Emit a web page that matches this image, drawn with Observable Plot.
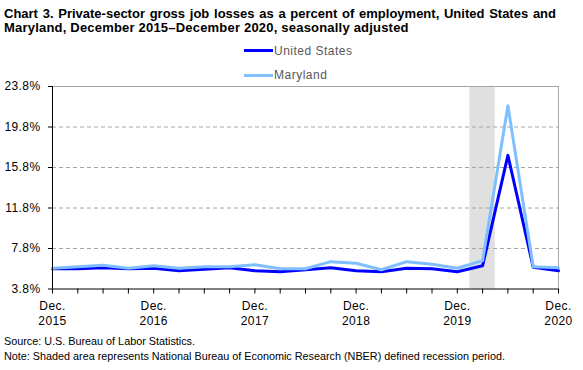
<!DOCTYPE html>
<html><head><meta charset="utf-8">
<script src="https://cdn.jsdelivr.net/npm/d3@7"></script>
<script src="https://cdn.jsdelivr.net/npm/@observablehq/plot@0.6"></script>
<style>
body{margin:0;background:#fff;}
#wrap{position:relative;width:583px;height:370px;overflow:hidden;font-family:"Liberation Sans",Arial,sans-serif;}
#chart{position:absolute;left:0;top:0;}
#title{position:absolute;left:4px;top:7px;width:552px;font-weight:bold;font-size:13px;line-height:14px;color:#000;letter-spacing:0.2px;}
#title .l1{text-align:justify;text-align-last:justify;letter-spacing:0;}
.sw{position:absolute;left:244px;width:29px;height:3px;}
.lt{position:absolute;left:274px;font-size:12px;line-height:14px;color:#595959;white-space:nowrap;letter-spacing:0.5px;}
.note{position:absolute;left:4px;font-size:11px;line-height:14px;color:#000;white-space:nowrap;transform-origin:0 0;}
</style></head>
<body>
<div id="wrap">
  <div id="chart"></div>
  <div id="title"><div class="l1">Chart 3. Private-sector gross job losses as a percent of employment, United States and</div><div>Maryland, December 2015–December 2020, seasonally adjusted</div></div>
  <div class="sw" id="sw0" style="top:48.5px"></div><div class="lt" id="lt0" style="top:44px"></div>
  <div class="sw" id="sw1" style="top:73.8px"></div><div class="lt" id="lt1" style="top:68.3px"></div>
  <div class="note" id="src" style="top:334.2px">Source: U.S. Bureau of Labor Statistics.</div>
  <div class="note" id="nt" style="top:348.7px">Note: Shaded area represents National Bureau of Economic Research (NBER) defined recession period.</div>
</div>
<script>
const quarters = ["Dec 2015","Mar 2016","Jun 2016","Sep 2016","Dec 2016","Mar 2017","Jun 2017","Sep 2017","Dec 2017","Mar 2018","Jun 2018","Sep 2018","Dec 2018","Mar 2019","Jun 2019","Sep 2019","Dec 2019","Mar 2020","Jun 2020","Sep 2020","Dec 2020"];
const usRate = [5.8,5.8,5.9,5.8,5.85,5.6,5.75,5.9,5.6,5.5,5.7,5.9,5.6,5.5,5.85,5.8,5.5,6.1,17.0,5.95,5.6];
const mdRate = [5.85,6.0,6.15,5.85,6.1,5.85,6.0,6.0,6.2,5.8,5.8,6.5,6.35,5.7,6.5,6.25,5.85,6.6,21.9,6.0,5.9];
const seriesNames = ["United States","Maryland"];
const seriesColors = ["#0000ff","#80bfff"];
const yTicks = [3.8,7.8,11.8,15.8,19.8,23.8];
const recessionQuarters = ["Mar 2020"];

const idx = q => quarters.indexOf(q);
const us = quarters.map((q,i)=>({i, v: usRate[i]}));
const md = quarters.map((q,i)=>({i, v: mdRate[i]}));
const yearTicks = quarters.map((q,i)=>({i,q})).filter(d=>d.q.startsWith("Dec"));
const rec = recessionQuarters.map(q=>({x1: idx(q)-0.5, x2: idx(q)+0.5}));
const last = quarters.length-1;
const font = '"Liberation Sans",Arial,sans-serif';

const chart = Plot.plot({
  width:583, height:370,
  marginLeft:52, marginRight:25, marginTop:86, marginBottom:81.5,
  x:{type:"linear", domain:[0,last]},
  y:{domain:[yTicks[0], yTicks[yTicks.length-1]]},
  style:{fontFamily:font, fontSize:"12px", background:"transparent", color:"#000", letterSpacing:"0.4px"},
  marks:[
    Plot.rect(rec,{x1:"x1",x2:"x2",fill:"#e0e0e0"}),
    Plot.ruleY(yTicks.slice(1,-1),{stroke:"#a6a6a6",strokeDasharray:"4,3"}),
    Plot.ruleY([yTicks[yTicks.length-1]],{stroke:"#a6a6a6"}),
    Plot.ruleX([last],{stroke:"#a6a6a6"}),
    Plot.line(us,{x:"i",y:"v",stroke:seriesColors[0],strokeWidth:3,strokeLinejoin:"round"}),
    Plot.line(md,{x:"i",y:"v",stroke:seriesColors[1],strokeWidth:3,strokeLinejoin:"round"}),
    Plot.axisY({ticks:yTicks, tickFormat:d=>d.toFixed(1)+"%", tickSize:4, tickPadding:8, label:null}),
    Plot.ruleX([0],{stroke:"#000"}),
    Plot.axisX({ticks:d3.range(quarters.length), tickFormat:()=>"", tickSize:5, label:null}),
    Plot.ruleY([yTicks[0]],{stroke:"#000"}),
    Plot.text(yearTicks,{x:"i", text:()=>"Dec.", frameAnchor:"bottom", lineAnchor:"top", dy:12}),
    Plot.text(yearTicks,{x:"i", text:d=>d.q.slice(4), frameAnchor:"bottom", lineAnchor:"top", dy:27})
  ]
});
document.getElementById("chart").appendChild(chart);

seriesNames.forEach((n,k)=>{
  document.getElementById("sw"+k).style.background = seriesColors[k];
  document.getElementById("lt"+k).textContent = n;
});
// fit note widths to reference
[["src",191],["nt",501]].forEach(([id,w])=>{
  const el=document.getElementById(id);
  const cw=el.getBoundingClientRect().width;
  el.style.transform=`scaleX(${w/cw})`;
});
</script>
</body></html>
